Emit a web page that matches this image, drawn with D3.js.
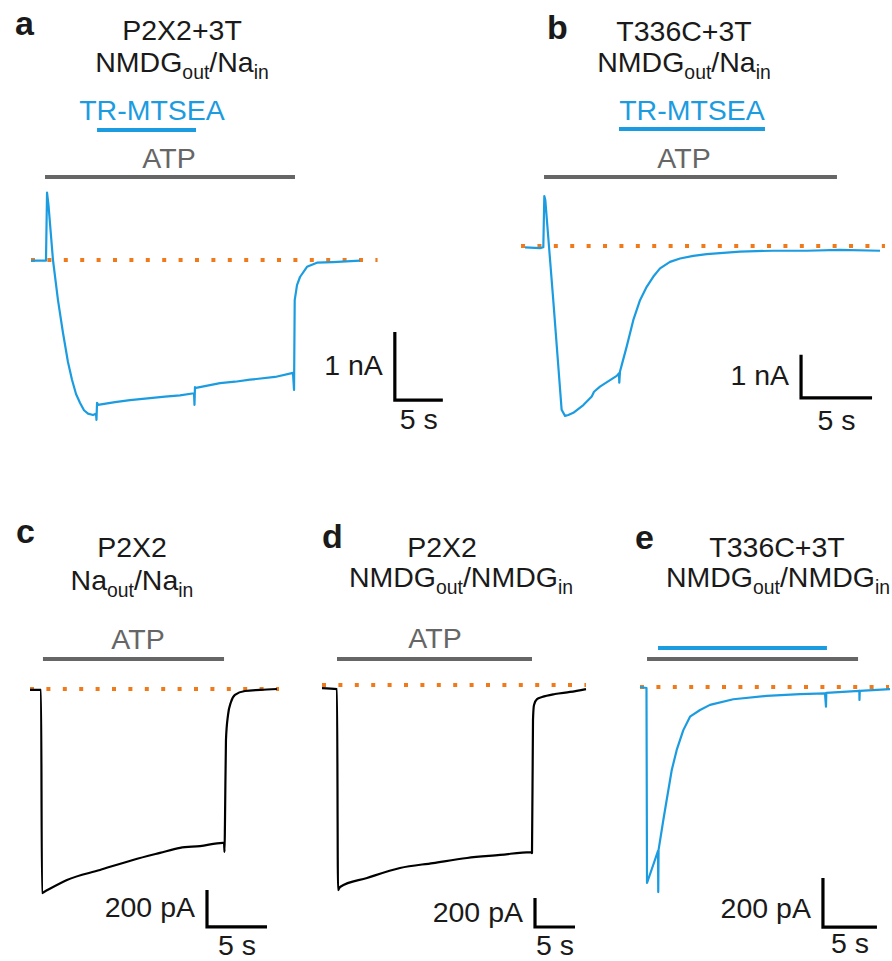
<!DOCTYPE html>
<html><head><meta charset="utf-8">
<script src="https://cdn.jsdelivr.net/npm/d3@7"></script>
<style>html,body{margin:0;padding:0;background:#fff;}</style>
</head><body>
<script>
// ---------------- DATA (time in s, current in nA or pA) ----------------
const traceA = [[0,-0.01],[0.94,-0.01],[1.56,-0.01],[1.67,0.99],[1.82,0.81],[2.29,0],[2.81,-0.59],[3.33,-1.07],[3.85,-1.5],[4.27,-1.76],[4.69,-1.97],[5.10,-2.10],[5.52,-2.21],[5.94,-2.26],[6.46,-2.28],[6.77,-2.26],[6.82,-2.35],[6.88,-2.10],[6.98,-2.13],[8.75,-2.09],[10.31,-2.06],[12.40,-2.03],[13.96,-2.01],[15.52,-1.99],[16.98,-1.96],[17.03,-2.13],[17.08,-1.87],[17.19,-1.88],[19.69,-1.81],[21.25,-1.79],[22.81,-1.76],[25.42,-1.72],[27.29,-1.66],[27.40,-1.91],[27.47,-0.59],[27.71,-0.37],[28.02,-0.25],[28.75,-0.10],[29.79,-0.04],[31.46,-0.03],[34.27,-0.01]];
const atpA = [1.46, 27.5];
const mtseaA = [6.88, 17.19];
const baseA = [0, 36.1];

const traceB = [[0,-0.03],[1.06,-0.05],[1.29,-0.03],[1.36,1.16],[1.43,1.07],[1.99,-1.26],[2.58,-3.81],[2.82,-3.95],[3.05,-3.93],[3.40,-3.88],[4.11,-3.70],[4.70,-3.50],[4.86,-3.39],[5.28,-3.27],[5.99,-3.12],[6.46,-3.02],[6.62,-2.96],[6.64,-3.18],[6.69,-2.92],[6.81,-2.77],[7.16,-2.34],[7.63,-1.72],[8.10,-1.26],[8.57,-0.95],[9.04,-0.71],[9.51,-0.52],[10.21,-0.37],[10.92,-0.29],[11.85,-0.23],[12.80,-0.19],[13.97,-0.16],[15.14,-0.13],[17.49,-0.11],[19.84,-0.11],[22.18,-0.09],[25.0,-0.11]];
const atpB = [1.34, 21.97];
const mtseaB = [6.62, 16.9];
const baseB = [-0.28, 25.35];

const traceC = [[0,-5],[0.92,-5],[1.0,-1103],[1.17,-1097],[3.08,-1032],[5.83,-978],[8.58,-924],[10.83,-886],[12.5,-859],[14.17,-849],[16.08,-832],[16.17,-832],[16.21,-881],[16.25,-708],[16.33,-276],[16.5,-141],[16.75,-70],[17.08,-32],[17.92,-11],[19.17,-5],[20.58,0]];
const atpC = [1.08, 16.17];
const baseC = [0, 20.75];

const traceD = [[0,-21],[1.875,-28],[2.0,-1414],[2.25,-1393],[5.625,-1331],[9.75,-1262],[13.875,-1228],[18.125,-1193],[22.25,-1172],[26.125,-1152],[26.25,-1159],[26.375,-241],[26.5,-138],[26.875,-97],[27.5,-83],[29.125,-62],[31.0,-48],[33.0,-28]];
const atpD = [1.875, 26.25];
const baseD = [0, 33];

const traceE = [[0,0],[0.60,-4],[0.65,-800],[1.67,-669],[1.69,-837],[1.72,-665],[2.16,-543],[2.47,-461],[2.94,-339],[3.40,-257],[4.01,-176],[4.63,-121],[5.56,-94],[6.48,-73],[8.64,-50],[11.73,-36],[14.81,-29],[17.13,-26],[17.22,-80],[17.25,-24],[20.31,-16],[20.32,-53],[20.35,-16],[23.15,-9]];
const atpE = [0.65, 20.19];
const mtseaE = [1.67, 17.31];
const baseE = [0, 23.06];

// scale bars: [t position, top current, time length, current length]
const scaleBarA = [37.9, -1.06, 5, 1];
const scaleBarB = [19.44, -2.53, 5, 1];
const scaleBarC = [14.75, -1086, 5, 200];
const scaleBarD = [26.625, -1469, 5, 200];
const scaleBarE = [16.94, -780, 5, 200];
const barLabelsNA = ["1 nA", "5 s"];
const barLabelsPA = ["200 pA", "5 s"];

// ---------------- STYLE / LAYOUT ----------------
const BLUE = "#1c9ce0", ORANGE = "#f07a1a", GRAY = "#666666", INK = "#1a1a1a";
const FONT = "'Liberation Sans', Arial, Helvetica, sans-serif";
const FS = 28.5;

const svg = d3.select("body").append("svg").attr("width", 892).attr("height", 961)
  .style("font-family", FONT);

function makeScales(x0, pps, y0, ppu) {
  return {
    x: d3.scaleLinear().domain([0, 1]).range([x0, x0 + pps]),
    y: d3.scaleLinear().domain([0, 1]).range([y0, y0 - ppu])
  };
}

function text(x, y, str, anchor, size, color, weight) {
  return svg.append("text").attr("x", x).attr("y", y).attr("text-anchor", anchor)
    .attr("font-size", size).attr("fill", color || INK).attr("font-weight", weight || "normal").text(str);
}

// parts: [text] main, [text,true] subscript, [text,false] main after a subscript
function subText(x, y, parts, anchor, size) {
  const t = svg.append("text").attr("x", x).attr("y", y).attr("text-anchor", anchor)
    .attr("font-size", size).attr("fill", INK);
  parts.forEach(([s, sub]) => {
    if (sub) t.append("tspan").text(s).attr("font-size", size * 0.68).attr("dy", 7);
    else t.append("tspan").text(s).attr("dy", sub === false ? -7 : 0);
  });
  return t;
}

function drawPanel(cfg) {
  const s = makeScales(cfg.x0, cfg.pps, cfg.y0, cfg.ppu);
  const g = svg.append("g");
  g.append("line")
    .attr("x1", s.x(cfg.base[0])).attr("x2", s.x(cfg.base[1]))
    .attr("y1", s.y(0)).attr("y2", s.y(0))
    .attr("stroke", ORANGE).attr("stroke-width", 4).attr("stroke-dasharray", "4 12.4");
  g.append("path").datum(cfg.trace)
    .attr("d", d3.line().curve(cfg.curve || d3.curveLinear).x(d => s.x(d[0])).y(d => s.y(d[1])))
    .attr("fill", "none").attr("stroke", cfg.color).attr("stroke-width", 2.2)
    .attr("stroke-linejoin", "round");
  g.append("line").attr("x1", s.x(cfg.atp[0])).attr("x2", s.x(cfg.atp[1]))
    .attr("y1", cfg.atpY).attr("y2", cfg.atpY).attr("stroke", GRAY).attr("stroke-width", 4);
  if (cfg.mtsea) {
    g.append("line").attr("x1", s.x(cfg.mtsea[0])).attr("x2", s.x(cfg.mtsea[1]))
      .attr("y1", cfg.mtseaY).attr("y2", cfg.mtseaY).attr("stroke", BLUE).attr("stroke-width", 4);
  }
  const [bt, bi, bdt, bdi] = cfg.sbar;
  const xa = s.x(bt), ya = s.y(bi), yb = s.y(bi - bdi), xb = s.x(bt + bdt);
  g.append("path").attr("d", `M${xa},${ya}V${yb}H${xb}`)
    .attr("fill", "none").attr("stroke", "#000").attr("stroke-width", 3.2)
    .attr("stroke-linecap", "butt").attr("stroke-linejoin", "miter");
  text(xa - 12, cfg.iLabY, cfg.labels[0], "end", FS);
  text((xa + xb) / 2, cfg.tLabY, cfg.labels[1], "middle", FS);
}

drawPanel({x0: 31, pps: 9.6, y0: 260, ppu: 68, trace: traceA, base: baseA, atp: atpA, atpY: 177,
  mtsea: mtseaA, mtseaY: 130, color: BLUE, sbar: scaleBarA, labels: barLabelsNA, iLabY: 375, tLabY: 429});
drawPanel({x0: 525, pps: 14.2, y0: 246, ppu: 43, trace: traceB, base: baseB, atp: atpB, atpY: 177,
  mtsea: mtseaB, mtseaY: 129, color: BLUE, sbar: scaleBarB, labels: barLabelsNA, iLabY: 385, tLabY: 430});
drawPanel({x0: 30, pps: 12, y0: 689, ppu: 0.185, trace: traceC, base: baseC, atp: atpC, atpY: 659,
  color: "#000", sbar: scaleBarC, labels: barLabelsPA, iLabY: 917, tLabY: 955, curve: d3.curveMonotoneX});
drawPanel({x0: 322, pps: 8, y0: 685, ppu: 0.145, trace: traceD, base: baseD, atp: atpD, atpY: 659,
  color: "#000", sbar: scaleBarD, labels: barLabelsPA, iLabY: 922, tLabY: 955, curve: d3.curveMonotoneX});
drawPanel({x0: 640, pps: 10.8, y0: 687, ppu: 0.245, trace: traceE, base: baseE, atp: atpE, atpY: 659,
  mtsea: mtseaE, mtseaY: 648, color: BLUE, sbar: scaleBarE, labels: barLabelsPA, iLabY: 918, tLabY: 953});

[["a", 15, 35], ["b", 547, 39], ["c", 16, 543], ["d", 322, 548], ["e", 635, 549]].forEach(([l, x, y]) =>
  text(x, y, l, "start", 34, INK, "bold"));

text(182, 40, "P2X2+3T", "middle", FS);
subText(182, 72, [["NMDG"], ["out", true], ["/Na", false], ["in", true]], "middle", FS);
text(684, 41, "T336C+3T", "middle", FS);
subText(684, 72, [["NMDG"], ["out", true], ["/Na", false], ["in", true]], "middle", FS);
text(132, 557, "P2X2", "middle", FS);
subText(132, 590, [["Na"], ["out", true], ["/Na", false], ["in", true]], "middle", FS);
text(442, 557, "P2X2", "middle", FS);
subText(461, 587, [["NMDG"], ["out", true], ["/NMDG", false], ["in", true]], "middle", FS);
text(777, 557, "T336C+3T", "middle", FS);
subText(778, 587, [["NMDG"], ["out", true], ["/NMDG", false], ["in", true]], "middle", FS);

text(152, 120, "TR-MTSEA", "middle", FS, BLUE);
text(692, 120, "TR-MTSEA", "middle", FS, BLUE);
text(169, 168, "ATP", "middle", FS, GRAY);
text(684, 168, "ATP", "middle", FS, GRAY);
text(138, 649, "ATP", "middle", FS, GRAY);
text(435, 648, "ATP", "middle", FS, GRAY);
</script>
</body></html>
